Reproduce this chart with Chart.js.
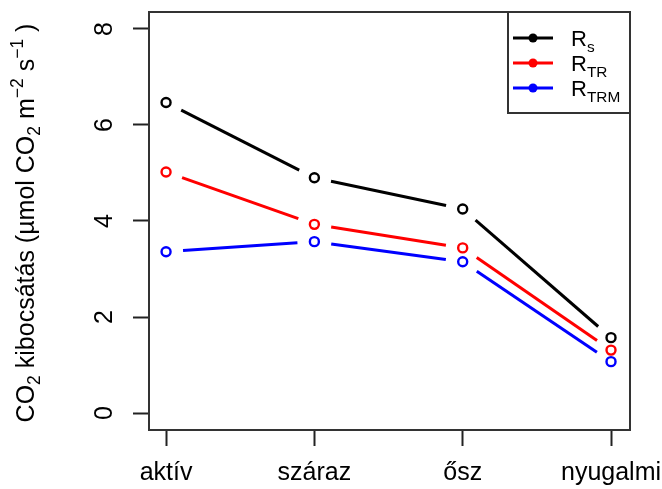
<!DOCTYPE html>
<html>
<head>
<meta charset="utf-8">
<script src="https://cdn.jsdelivr.net/npm/chart.js@4"></script>
<style>
  body { margin: 0; background: #fff; }
  #wrap { width: 662px; height: 489px; position: relative; }
</style>
</head>
<body>
<div id="wrap"><canvas id="co2Chart"></canvas></div>
<script>
// data
const categories = ['aktív', 'száraz', 'ősz', 'nyugalmi'];
const rsValues   = [6.47, 4.90, 4.25, 1.57];
const rtrValues  = [5.02, 3.93, 3.44, 1.31];
const rtrmValues = [3.36, 3.57, 3.15, 1.07];
const yTicks = [0, 2, 4, 6, 8];

const FONT = '"Liberation Sans", Arial, sans-serif';

function toPoints(values) {
    return values.map((v, i) => ({ x: i, y: v }));
}

// draws the R "type = b" lines: segments stop short of each point
const gappedLines = {
    id: 'gappedLines',
    beforeDatasetsDraw(chart) {
        const ctx = chart.ctx;
        const area = chart.chartArea;
        const gap = 17;
        ctx.save();
        ctx.beginPath();
        ctx.rect(area.left, area.top, area.right - area.left, area.bottom - area.top);
        ctx.clip();
        chart.data.datasets.forEach((ds, di) => {
            const pts = chart.getDatasetMeta(di).data;
            ctx.strokeStyle = ds.borderColor;
            ctx.lineWidth = 3;
            for (let i = 0; i < pts.length - 1; i++) {
                const a = pts[i], b = pts[i + 1];
                const dx = b.x - a.x, dy = b.y - a.y;
                const len = Math.sqrt(dx * dx + dy * dy);
                if (len <= 2 * gap) continue;
                const ux = dx / len, uy = dy / len;
                ctx.beginPath();
                ctx.moveTo(a.x + ux * gap, a.y + uy * gap);
                ctx.lineTo(b.x - ux * gap, b.y - uy * gap);
                ctx.stroke();
            }
        });
        ctx.restore();
    }
};

// draws text pieces with sub/superscripts along a baseline
function drawRich(ctx, parts, size) {
    let x = 0;
    parts.forEach(p => {
        let s = size, dy = 0;
        if (p.sub) { s = size * 0.7; dy = size * 0.25; }
        if (p.sup) { s = size * 0.7; dy = -size * 0.45; }
        ctx.font = s + 'px ' + FONT;
        ctx.fillText(p.t, x, dy);
        x += ctx.measureText(p.t).width;
    });
    return x;
}

function richWidth(ctx, parts, size) {
    let w = 0;
    parts.forEach(p => {
        const s = (p.sub || p.sup) ? size * 0.7 : size;
        ctx.font = s + 'px ' + FONT;
        w += ctx.measureText(p.t).width;
    });
    return w;
}

const decorations = {
    id: 'decorations',
    afterDraw(chart) {
        const ctx = chart.ctx;
        const area = chart.chartArea;
        const yScale = chart.scales.y;
        ctx.save();

        // box around the plot
        ctx.strokeStyle = '#333';
        ctx.lineWidth = 2;
        ctx.strokeRect(area.left, area.top, area.right - area.left, area.bottom - area.top);

        // rotated y tick labels
        ctx.fillStyle = '#000';
        ctx.textAlign = 'center';
        ctx.textBaseline = 'alphabetic';
        ctx.font = '25px ' + FONT;
        yTicks.forEach(v => {
            const py = yScale.getPixelForValue(v);
            ctx.save();
            ctx.translate(area.left - 37, py);
            ctx.rotate(-Math.PI / 2);
            ctx.fillText(String(v), 0, 0);
            ctx.restore();
        });

        // y axis title
        const title = [
            { t: 'CO' }, { t: '2', sub: true },
            { t: ' kibocsátás (µmol CO' }, { t: '2', sub: true },
            { t: ' m' }, { t: '−2', sup: true },
            { t: ' s' }, { t: '−1', sup: true },
            { t: ' )' }
        ];
        const tSize = 25;
        const tw = richWidth(ctx, title, tSize);
        ctx.save();
        ctx.translate(34, (area.top + area.bottom) / 2 + 2 + tw / 2);
        ctx.rotate(-Math.PI / 2);
        ctx.textAlign = 'left';
        drawRich(ctx, title, tSize);
        ctx.restore();

        // legend box in the top right corner
        const bw = 122, bh = 101;
        const bx = area.right - bw, by = area.top;
        ctx.fillStyle = '#fff';
        ctx.fillRect(bx, by, bw, bh);
        ctx.strokeStyle = '#333';
        ctx.lineWidth = 2;
        ctx.strokeRect(bx, by, bw, bh);
        const labels = [
            [{ t: 'R' }, { t: 's', sub: true }],
            [{ t: 'R' }, { t: 'TR', sub: true }],
            [{ t: 'R' }, { t: 'TRM', sub: true }]
        ];
        chart.data.datasets.forEach((ds, i) => {
            const ry = by + 26 + i * 25;
            ctx.strokeStyle = ds.borderColor;
            ctx.lineWidth = 3;
            ctx.beginPath();
            ctx.moveTo(bx + 5, ry);
            ctx.lineTo(bx + 45, ry);
            ctx.stroke();
            ctx.fillStyle = ds.borderColor;
            ctx.beginPath();
            ctx.arc(bx + 25, ry, 4.5, 0, Math.PI * 2);
            ctx.fill();
            ctx.fillStyle = '#000';
            ctx.save();
            ctx.translate(bx + 63, ry + 8);
            ctx.textAlign = 'left';
            drawRich(ctx, labels[i], 22);
            ctx.restore();
        });
        ctx.restore();
    }
};

const series = [
    { label: 'Rs', data: toPoints(rsValues), color: '#000000' },
    { label: 'RTR', data: toPoints(rtrValues), color: '#ff0000' },
    { label: 'RTRM', data: toPoints(rtrmValues), color: '#0000ff' }
];

new Chart(document.getElementById('co2Chart').getContext('2d'), {
    type: 'line',
    data: {
        datasets: series.map(s => ({
            label: s.label,
            data: s.data,
            showLine: false,
            borderColor: s.color,
            pointBorderColor: s.color,
            pointBackgroundColor: 'rgba(0,0,0,0)',
            pointRadius: 4.5,
            pointBorderWidth: 2.4,
            pointHoverRadius: 4.5
        }))
    },
    options: {
        responsive: true,
        maintainAspectRatio: false,
        animation: false,
        layout: { padding: { left: 0, top: 12, right: 32, bottom: 0 } },
        plugins: {
            legend: { display: false },
            tooltip: { enabled: false }
        },
        scales: {
            x: {
                type: 'linear',
                min: -0.115,
                max: 3.128,
                afterBuildTicks: scale => {
                    scale.ticks = categories.map((c, i) => ({ value: i }));
                },
                afterFit: scale => {
                    scale.height = 59;
                    // let the last label run to the canvas edge like the original
                    scale.paddingLeft = 0;
                    scale.paddingRight = 0;
                },
                ticks: {
                    callback: v => categories[v],
                    color: '#000',
                    font: { family: FONT, size: 25 },
                    padding: 12,
                    maxRotation: 0,
                    autoSkip: false
                },
                grid: {
                    drawOnChartArea: false,
                    drawTicks: true,
                    tickLength: 16,
                    tickColor: '#222',
                    tickWidth: 2
                },
                border: { display: false }
            },
            y: {
                min: -0.354,
                max: 8.354,
                afterBuildTicks: scale => {
                    scale.ticks = yTicks.map(v => ({ value: v }));
                },
                afterFit: scale => {
                    scale.width = 149;
                    scale.paddingTop = 0;
                    scale.paddingBottom = 0;
                },
                ticks: { display: false },
                grid: {
                    drawOnChartArea: false,
                    drawTicks: true,
                    tickLength: 16,
                    tickColor: '#222',
                    tickWidth: 2
                },
                border: { display: false }
            }
        }
    },
    plugins: [gappedLines, decorations]
});
</script>
</body>
</html>
